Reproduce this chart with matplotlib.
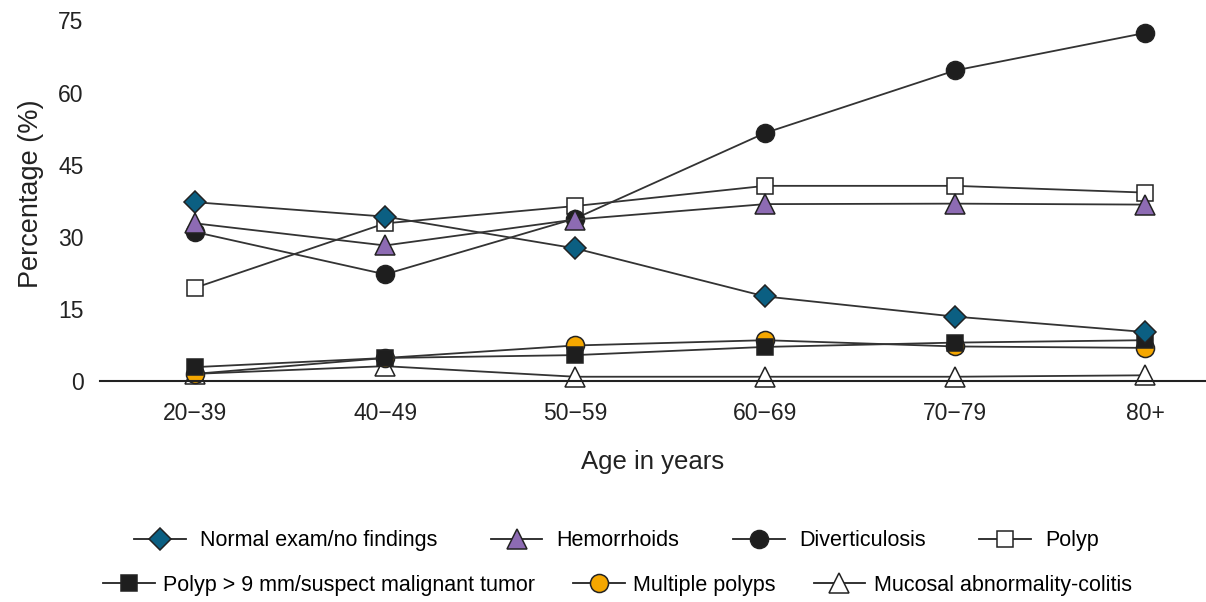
import numpy as np
import matplotlib
matplotlib.use("Agg")
import matplotlib.pyplot as plt
from matplotlib.lines import Line2D

plt.rcParams['font.family'] = ['Liberation Sans', 'DejaVu Sans']

ages = ["20\u221239", "40\u221249", "50\u221259", "60\u221269", "70\u221279", "80+"]

normal = [37.2, 34.2, 27.6, 17.6, 13.4, 10.2]
hemorrhoids = [32.8, 28.2, 33.6, 36.8, 36.9, 36.7]
diverticulosis = [31.0, 22.2, 33.8, 51.6, 64.6, 72.4]
polyp = [19.4, 32.8, 36.4, 40.6, 40.6, 39.2]
polyp_large = [2.9, 4.8, 5.4, 7.1, 8.0, 8.5]
multiple_polyps = [1.5, 4.8, 7.4, 8.5, 7.2, 6.9]
mucosal = [1.5, 3.1, 0.9, 0.9, 0.9, 1.2]

series = [
    ("Normal exam/no findings", normal, "D", "#0b5f82", 11.5),
    ("Hemorrhoids", hemorrhoids, "^", "#8d6bb3", 14.5),
    ("Diverticulosis", diverticulosis, "o", "#1e1e1e", 13),
    ("Polyp", polyp, "s", "white", 12),
    ("Polyp > 9 mm/suspect malignant tumor", polyp_large, "s", "#1e1e1e", 12),
    ("Multiple polyps", multiple_polyps, "o", "#f5a700", 13),
    ("Mucosal abnormality-colitis", mucosal, "^", "white", 14.5),
]

fig = plt.figure(figsize=(12.06, 6.02), dpi=100)
ax = fig.add_axes([0.083, 0.367, 0.917, 0.623])

x = np.arange(len(ages))
handles = []
# draw in reverse so the upper series sit on top like the original
for name, vals, mk, fc, ms in reversed(series):
    ax.plot(x, vals, color="#333333", lw=1.3, marker=mk, ms=ms,
            mfc=fc, mec="#222222", mew=1.1, clip_on=False)
for name, vals, mk, fc, ms in series:
    handles.append(Line2D([], [], color="#222222", lw=1.3, marker=mk, ms=ms,
                          mfc=fc, mec="#222222", mew=1.1, label=name))

ax.set_xlim(-0.5, 5.32)
ax.set_ylim(0, 78)
ax.set_yticks([0, 15, 30, 45, 60, 75])
ax.set_xticks(x)
ax.set_xticklabels(ages)
ax.tick_params(axis="both", length=0, labelsize=16.5, colors="#222222")
ax.tick_params(axis="x", pad=15)
ax.tick_params(axis="y", pad=12)
for s in ["top", "right", "left"]:
    ax.spines[s].set_visible(False)
ax.spines["bottom"].set_linewidth(1.5)
ax.spines["bottom"].set_color("#222222")

ax.set_xlabel("Age in years", fontsize=18.5, color="#222222", labelpad=18)
ax.set_ylabel("Percentage (%)", fontsize=19.5, color="#222222", labelpad=10)

leg1 = fig.legend(handles=handles[:4], loc="center", bbox_to_anchor=(0.511, 0.102),
                  ncol=4, frameon=False, fontsize=15.5, handlelength=2.4,
                  handletextpad=0.65, columnspacing=2.5)
leg2 = fig.legend(handles=handles[4:], loc="center", bbox_to_anchor=(0.512, 0.028),
                  ncol=3, frameon=False, fontsize=15.5, handlelength=2.4,
                  handletextpad=0.4, columnspacing=1.75)

fig.savefig("out.png", dpi=100)
